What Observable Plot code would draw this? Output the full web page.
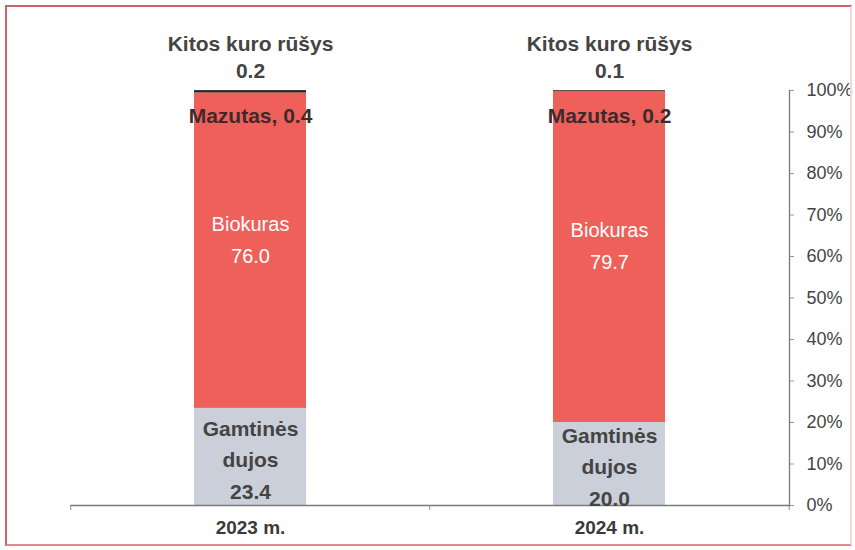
<!DOCTYPE html>
<html>
<head>
<meta charset="utf-8">
<script src="https://cdn.jsdelivr.net/npm/d3@7"></script>
<script src="https://cdn.jsdelivr.net/npm/@observablehq/plot@0.6"></script>
<style>
  html, body { margin: 0; padding: 0; background: #fff; }
  #wrap { position: relative; width: 855px; height: 550px; overflow: hidden; }
  #border { position: absolute; left: 5px; top: 5px; width: 843px; height: 537px;
            border: 2px solid #d2606a; border-right-color: #f3d6d8; border-bottom-color: #e08a90; box-sizing: content-box; }
  #chart { position: absolute; left: 0; top: 0; }
</style>
</head>
<body>
<div id="wrap"><div id="chart"></div><div id="border"></div></div>
<script>
const years = ["2023 m.", "2024 m."];
const fuels = ["Gamtinės dujos", "Biokuras", "Mazutas", "Kitos kuro rūšys"];
const gas = [23.4, 20.0];
const bio = [76.0, 79.7];
const mazutas = [0.4, 0.2];
const kitos = [0.2, 0.1];
const yTicks = [0, 10, 20, 30, 40, 50, 60, 70, 80, 90, 100];
const fuelColors = ["#cbcfd9", "#f0605a", "#3a1c1c", "#1e1e1e"];

const series = [gas, bio, mazutas, kitos];
const rows = [];
years.forEach((yr, i) => fuels.forEach((f, j) => rows.push({year: yr, fuel: f, value: series[j][i]})));

const font = "'Liberation Sans Narrow', 'Arial Narrow', 'Liberation Sans', Arial, sans-serif";
const regular = "'Liberation Sans', Arial, sans-serif";

const gasLabels = years.map((yr, i) => ({year: yr, mid: gas[i] / 2, text: `Gamtinės\ndujos\n${gas[i].toFixed(1)}`}));
const bioLabels = years.map((yr, i) => ({year: yr, mid: gas[i] + bio[i] / 2, text: `Biokuras\n${bio[i].toFixed(1)}`}));
const topLabels = years.map((yr, i) => ({year: yr, top: gas[i] + bio[i] + mazutas[i] + kitos[i],
  kitos: `Kitos kuro rūšys\n${kitos[i].toFixed(1)}`, maz: `Mazutas, ${mazutas[i].toFixed(1)}`}));

const step = (789 - 70) / years.length;

const plot = Plot.plot({
  width: 855,
  height: 550,
  marginLeft: 70,
  marginRight: 66,
  marginTop: 90,
  marginBottom: 45,
  style: {fontFamily: font, background: "transparent", overflow: "visible"},
  x: {domain: years, paddingInner: 0.688, paddingOuter: 0.344, label: null},
  y: {domain: [0, 100], label: null},
  color: {domain: fuels, range: fuelColors},
  marks: [
    Plot.barY(rows, {x: "year", y: "value", fill: "fuel", order: fuels}),
    Plot.ruleY([0], {stroke: "#7a7a7a", strokeWidth: 1.3}),
    Plot.ruleX(years, {x: d => d, dx: -step / 2, y1: 0, y2: -1.2, stroke: "#8a8a8a"}),
    Plot.ruleX(years.slice(-1), {x: d => d, dx: step / 2, y1: 0, y2: -1.2, stroke: "#8a8a8a"}),
    Plot.frame({anchor: "right", stroke: "#7a7a7a", strokeWidth: 1.3}),
    Plot.axisY({anchor: "right", ticks: yTicks, tickFormat: d => d + "%", tickSize: 4, tickPadding: 13,
      fontSize: 18, fill: "#444", stroke: "#999", textAnchor: "start"}),
    Plot.axisX({anchor: "bottom", tickSize: 0, tickPadding: 15, fontSize: 19, fontWeight: "bold", fill: "#3a3a3a"}),
    Plot.text(gasLabels, {x: "year", y: "mid", text: "text", fill: "#444", fontSize: 21, fontWeight: "bold", lineHeight: 1.5, dy: 0}),
    Plot.text(bioLabels, {x: "year", y: "mid", text: "text", fill: "#fff", fontSize: 20, fontFamily: regular, lineHeight: 1.6, dy: -14}),
    Plot.text(topLabels, {x: "year", y: "top", text: "maz", fill: "#3d2a2a", fontSize: 21, fontWeight: "bold", dy: 26}),
    Plot.text(topLabels, {x: "year", y: "top", text: "kitos", fill: "#444", fontSize: 21, fontWeight: "bold", lineHeight: 1.28, lineAnchor: "bottom", dy: -13})
  ]
});
document.getElementById("chart").appendChild(plot);
</script>
</body>
</html>
